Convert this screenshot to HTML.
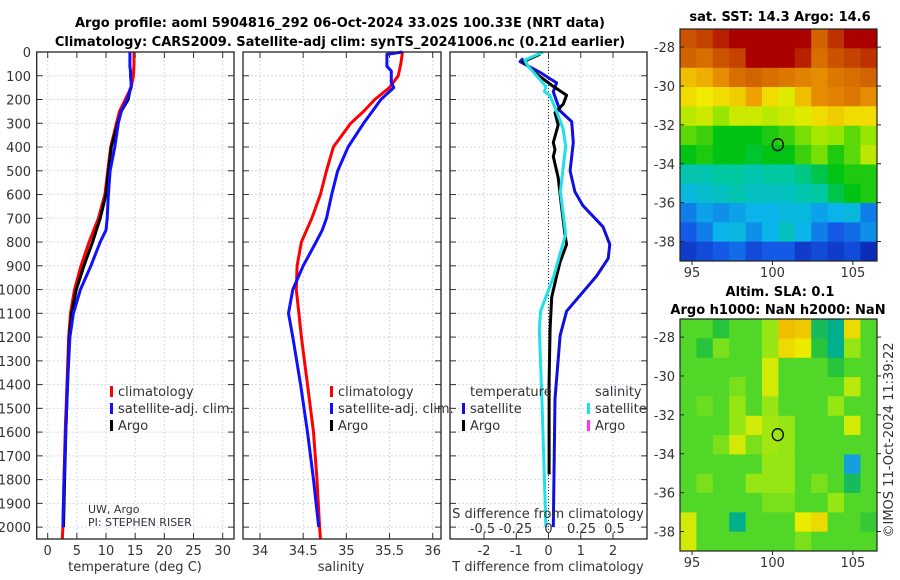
<!DOCTYPE html>
<html><head><meta charset="utf-8">
<style>
body{margin:0;background:#fff;}
svg{display:block;font-family:"DejaVu Sans","Liberation Sans",sans-serif;}
.t{font-size:13px;fill:#333}
.b{font-size:13px;font-weight:bold;fill:#000}
</style></head>
<body>
<svg id="fig" width="900" height="580" viewBox="0 0 900 580">
<text class="b" x="340" y="27" text-anchor="middle">Argo profile: aoml 5904816_292 06-Oct-2024 33.02S 100.33E (NRT data)</text>
<text class="b" x="340" y="46" text-anchor="middle">Climatology: CARS2009. Satellite-adj clim: synTS_20241006.nc (0.21d earlier)</text>
<text class="b" x="780" y="21" text-anchor="middle">sat. SST: 14.3 Argo: 14.6</text>
<text class="b" x="780" y="296" text-anchor="middle">Altim. SLA: 0.1</text>
<text class="b" x="778" y="314" text-anchor="middle">Argo h1000: NaN h2000: NaN</text>
<text class="t" transform="translate(893,440) rotate(-90)" text-anchor="middle">©IMOS 11-Oct-2024 11:39:22</text>
<g id="g"></g>
</svg>
<script>
// ---- profile data ----
const depthClim=[0,50,100,150,200,250,300,400,500,600,700,800,900,1000,1100,1200,1400,1600,1800,2000,2050];
const tempClim=[14.8,14.8,14.7,14.3,13.3,12.3,11.8,10.8,10.3,9.8,8.7,7.1,5.7,4.6,3.9,3.6,3.3,3.0,2.8,2.6,2.5];
const salClim=[35.65,35.63,35.6,35.5,35.33,35.2,35.05,34.85,34.77,34.7,34.6,34.48,34.43,34.42,34.45,34.48,34.55,34.62,34.66,34.69,34.7];
const depthSat=[0,10,60,80,100,130,150,200,250,300,400,500,600,700,750,800,900,1000,1100,1200,1400,1600,1800,2000];
const tempSat=[14.1,14.1,14.1,14.2,14.2,14.3,14.3,13.6,12.6,12.1,11.5,10.7,10.4,10.2,10.0,9.0,7.4,5.6,4.4,3.8,3.4,3.1,2.8,2.6];
const salSat=[35.65,35.47,35.47,35.52,35.52,35.52,35.55,35.4,35.3,35.2,35.02,34.9,34.83,34.77,34.72,34.65,34.5,34.38,34.33,34.38,34.47,34.55,34.62,34.68];
const depthArgo=[150,200,250,300,400,500,600,700,800,900,1000,1100,1200,1400,1600,1800,2000];
const tempArgo=[14.2,13.8,12.6,12.0,10.9,10.4,10.0,9.0,7.7,6.2,4.9,4.1,3.7,3.4,3.1,2.9,2.7];
// difference panel
const depthDT=[27,41,86,130,167,248,293,381,500,588,647,736,810,869,943,1091,1194,1460,2000];
const dTsat=[-0.78,-0.88,-0.26,0.25,0.15,0.36,0.72,0.77,0.67,0.82,1.07,1.69,1.9,1.85,1.49,0.56,0.36,0.2,0.15];
const depthDTa=[9,41,93,145,182,219,256,307,381,411,440,529,647,766,810,884,943,1032,1165,1386,1778];
const dTargo=[-0.26,-0.78,-0.37,0.15,0.56,0.46,0.2,0.3,0.15,0.2,0.15,0.3,0.4,0.51,0.56,0.36,0.25,0.1,0.05,0.02,0.02];
const depthDS=[0,34,56,100,145,167,182,248,322,396,588,766,943,1091,1165,1460,2000];
const dSsat=[-0.04,-0.18,-0.16,-0.09,-0.02,-0.03,0.01,0.06,0.11,0.13,0.09,0.13,0.04,-0.06,-0.07,-0.05,-0.02];
const depthTicks=[0,100,200,300,400,500,600,700,800,900,1000,1100,1200,1300,1400,1500,1600,1700,1800,1900,2000];
const tTicks=[0,5,10,15,20,25,30];
const sTicks=[34,34.5,35,35.5,36];
const dTTicks=[-2,-1,0,1,2];
const dSTicks=[-0.5,-0.25,0,0.25,0.5];
// ---- map data ----
const mapLons=[94.76,95.78,96.8,97.82,98.84,99.86,100.88,101.9,102.92,103.94,104.96,105.98];
const mapLats=[-27.57,-28.56,-29.56,-30.55,-31.54,-32.54,-33.53,-34.53,-35.52,-36.51,-37.51,-38.5];
const sst=[
[16.7,16.8,17.0,17.3,17.4,17.5,17.5,17.3,16.6,16.9,17.4,17.5],
[16.6,16.5,16.7,16.8,17.2,17.4,17.3,17.0,16.5,16.7,16.8,16.9],
[15.8,15.9,16.2,16.5,16.6,16.5,16.4,16.3,16.2,16.4,16.5,16.6],
[15.6,15.5,15.6,15.7,16.0,15.6,15.4,15.8,16.2,16.3,16.4,16.2],
[15.2,15.3,15.0,15.3,15.3,15.2,15.3,15.4,15.6,15.7,15.6,15.6],
[14.8,14.7,14.5,14.5,14.5,14.6,14.7,14.9,15.1,15.0,14.8,15.0],
[14.5,14.6,14.5,14.5,14.4,14.5,14.5,14.7,14.9,14.6,14.8,15.2],
[13.9,13.9,14.0,14.0,13.9,14.0,14.0,14.1,14.3,14.5,14.6,14.6],
[13.6,13.7,13.8,13.9,13.8,13.8,13.8,13.9,14.0,14.3,14.5,14.6],
[13.2,13.4,13.3,13.4,13.5,13.5,13.6,13.6,13.4,13.5,13.6,13.2],
[13.0,13.2,13.5,13.6,13.3,13.5,13.8,13.5,13.2,13.0,13.1,13.3],
[12.8,12.9,13.0,13.1,12.9,13.0,13.0,12.8,12.9,12.8,12.9,12.7]];
const sla=[
[0,0,-0.03,0,0,0.05,0.2,0.18,-0.05,-0.08,0.15,0],
[0,-0.03,0.03,0,0,0.05,0.15,0.12,-0.03,-0.08,0.05,0],
[0,0,0,0,0,0.1,0,0,0,-0.03,0,0],
[0,0,0,0.03,0,0.1,0,0,0,0,0.08,0],
[0,0.02,0,0.05,0,0.05,0,0,0,0.05,0,0],
[0,0,0,0.05,0.1,0.06,0.05,0,0,0,0.1,0],
[0,0,0.03,0.1,0.03,0.06,0.05,0,0,0,0,0],
[0,0,0,0,0,0.05,0.05,0,0,0,-0.15,0],
[0,0.03,0,0,0.05,0.05,0.05,0,0.03,0,-0.05,0],
[0,0,0,0,0,0.03,0.03,0,0,0.05,0,0],
[0.1,0,0,-0.08,0,0,0,0.12,0.15,0,0,-0.02],
[0.1,0,0,0,0,0,0,0.03,0,0,0,0]];
const argoLon=100.33, argoLat=-33.02;
const lonTicks=[95,100,105];
const latTicks=[-28,-30,-32,-34,-36,-38];

const NS='http://www.w3.org/2000/svg';
const G=document.getElementById('g');
function el(tag,attrs,parent){const e=document.createElementNS(NS,tag);for(const k in attrs)e.setAttribute(k,attrs[k]);(parent||G).appendChild(e);return e;}
function txt(x,y,s,anchor,cls){const e=el('text',{x:x,y:y,'text-anchor':anchor||'middle','class':cls||'t'});e.textContent=s;return e;}
const Y0=52,Y1=539;
const yD=d=>Y0+d*(Y1-Y0)/2050;
function lin(d0,d1,p0,p1){return v=>p0+(v-d0)*(p1-p0)/(d1-d0);}
const xT=lin(0,30,47.7,222.7), xS=lin(34,36,260,432.7), xDT=lin(0,1,548.5,580.75), xDS=lin(0,1,548.5,680.5);
function panel(x0,x1,name,vt,xf){
  const g=el('g',{});
  
  
  vt.forEach(v=>{const l=el('line',{x1:xf(v),x2:xf(v),y1:Y0,y2:Y1,stroke:'#d2d8ee','stroke-width':1,'stroke-dasharray':'2,2'},g);
    });
  depthTicks.forEach(d=>{const l=el('line',{x1:x0,x2:x1,y1:yD(d),y2:yD(d),stroke:'#d2d8ee','stroke-width':1,'stroke-dasharray':'2,2'},g);
    
    el('line',{x1:x0,x2:x0+6,y1:yD(d),y2:yD(d),stroke:'#333'},g);el('line',{x1:x1-6,x2:x1,y1:yD(d),y2:yD(d),stroke:'#333'},g);});
  return g;
}
function frame(x0,x1,name){const r=el('rect',{x:x0,y:Y0,width:x1-x0,height:Y1-Y0,fill:'none',stroke:'#222','stroke-width':1.3});
  }
function line(xs,ds,xf,color,name,w){
  const p=el('polyline',{points:xs.map((v,i)=>xf(v).toFixed(1)+','+yD(ds[i]).toFixed(1)).join(' '),fill:'none',stroke:color,'stroke-width':w||3,'stroke-linejoin':'round'});
  }
// panel 1
panel(36.7,234,'temperature-panel',tTicks,xT);
line(tempClim,depthClim,xT,'#ff0000','temp-climatology-line');
line(tempArgo,depthArgo,xT,'#000','temp-argo-line');
line(tempSat,depthSat,xT,'#1010ff','temp-satellite-line');
frame(36.7,234,'temperature-axes');
depthTicks.forEach(d=>{const t=txt(31,yD(d)+5,String(d),'end');});
tTicks.forEach(v=>{const t=txt(xT(v),555,String(v));el('line',{x1:xT(v),x2:xT(v),y1:Y1,y2:Y1-6,stroke:'#333'});el('line',{x1:xT(v),x2:xT(v),y1:Y0,y2:Y0+6,stroke:'#333'});});
let t=txt(135,571,'temperature (deg C)');
function legend(x,y,items){items.forEach((it,i)=>{el('rect',{x:x,y:y+i*17-10,width:3,height:11,fill:it[0]});const tt=txt(x+8,y+i*17,it[1],'start');});}
legend(110,396,[['#ff0000','climatology'],['#1010ff','satellite-adj. clim.'],['#000','Argo']]);
t=txt(88,513,'UW, Argo','start');t.style.fontSize='11px';
t=txt(88,526,'PI: STEPHEN RISER','start');t.style.fontSize='11px';
// panel 2
panel(243,441,'salinity-panel',sTicks,xS);
line(salClim,depthClim,xS,'#ff0000','sal-climatology-line');
line(salSat,depthSat,xS,'#1010ff','sal-satellite-line');
frame(243,441,'salinity-axes');
sTicks.forEach(v=>{const t=txt(xS(v),555,String(v));el('line',{x1:xS(v),x2:xS(v),y1:Y1,y2:Y1-6,stroke:'#333'});el('line',{x1:xS(v),x2:xS(v),y1:Y0,y2:Y0+6,stroke:'#333'});});
t=txt(341,571,'salinity');
legend(330,396,[['#ff0000','climatology'],['#1010ff','satellite-adj. clim.'],['#000','Argo']]);
// panel 3
panel(450,647,'difference-panel',dTTicks,xDT);
el('line',{x1:xDT(0),x2:xDT(0),y1:Y0,y2:Y1,stroke:'#333','stroke-width':1,'stroke-dasharray':'1,2'});
line(dTsat,depthDT,xDT,'#1010dd','dT-satellite-line');
line(dTargo,depthDTa,xDT,'#000','dT-argo-line');
line(dSsat,depthDS,xDS,'#20e0e8','dS-satellite-line');
frame(450,647,'difference-axes');
dTTicks.forEach(v=>{const t=txt(xDT(v),555,String(v));el('line',{x1:xDT(v),x2:xDT(v),y1:Y1,y2:Y1-6,stroke:'#333'});el('line',{x1:xDT(v),x2:xDT(v),y1:Y0,y2:Y0+6,stroke:'#333'});});
dSTicks.forEach(v=>{const t=txt(xDS(v),533,String(v));});
t=txt(548,518,'S difference from climatology');
t=txt(548,571,'T difference from climatology');
t=txt(470,396,'temperature','start');
t=txt(595,396,'salinity','start');
legend(462,413,[['#1010dd','satellite'],['#000','Argo']]);
legend(587,413,[['#20e0e8','satellite'],['#ff30ff','Argo']]);
// ---- maps ----
const MX0=680,MX1=877;
const mLon=lin(94.25,106.5,MX0,MX1);
function rgb(a){return 'rgb('+a.join(',')+')';}
function interp(stops,v){if(v<=stops[0][0])return rgb(stops[0][1]);for(let i=1;i<stops.length;i++){if(v<=stops[i][0]){const a=stops[i-1],b=stops[i],f=(v-a[0])/(b[0]-a[0]);return rgb(a[1].map((c,j)=>Math.round(c+(b[1][j]-c)*f)));}}return rgb(stops[stops.length-1][1]);}
const sstStops=[[12.6,[10,30,170]],[13.0,[20,90,230]],[13.5,[10,180,235]],[14.0,[0,200,160]],[14.5,[0,195,20]],[15.0,[150,230,0]],[15.5,[240,235,0]],[16.0,[240,160,0]],[16.6,[210,100,0]],[17.2,[170,0,0]]];
function mapPanel(Y0m,Y1m,vals,stops,name,cellName){
  const mLat=lin(-27.07,-39.0,Y0m,Y1m);
  const g=el('g',{});
  const dl=mapLons[1]-mapLons[0], dp=mapLats[0]-mapLats[1];
  vals.forEach((row,r)=>row.forEach((v,c)=>{
    const x0=mLon(mapLons[c]-dl/2), x1=mLon(mapLons[c]+dl/2), y0=mLat(mapLats[r]+dp/2), y1=mLat(mapLats[r]-dp/2);
    const cell=el('rect',{x:x0.toFixed(2),y:y0.toFixed(2),width:(x1-x0+0.6).toFixed(2),height:(y1-y0+0.6).toFixed(2),fill:interp(stops,v)},g);
    
    
  }));
  const fr=el('rect',{x:MX0,y:Y0m,width:MX1-MX0,height:Y1m-Y0m,fill:'none',stroke:'#222','stroke-width':1.2});
  
  const mk=el('ellipse',{cx:mLon(argoLon),cy:mLat(argoLat),rx:5.5,ry:6,fill:'none',stroke:'#000','stroke-width':1.3});
  
  latTicks.forEach(v=>{const tt=txt(675,mLat(v)+5,String(v),'end');
    el('line',{x1:MX0,x2:MX0+4,y1:mLat(v),y2:mLat(v),stroke:'#222'});el('line',{x1:MX1,x2:MX1+4,y1:mLat(v),y2:mLat(v),stroke:'#222'});});
  lonTicks.forEach(v=>{const tt=txt(mLon(v),Y1m+16,String(v));
    el('line',{x1:mLon(v),x2:mLon(v),y1:Y1m,y2:Y1m+4,stroke:'#222'});});
}
mapPanel(29,261,sst,sstStops,'sst-map','sst-cell');
const slaStops=[[-0.15,[20,160,220]],[-0.08,[0,175,140]],[-0.03,[40,195,60]],[0,[80,215,40]],[0.05,[150,230,20]],[0.12,[235,235,0]],[0.2,[240,190,0]]];
mapPanel(319,551,sla,slaStops,'sla-map','sla-cell');
</script>
</body></html>
